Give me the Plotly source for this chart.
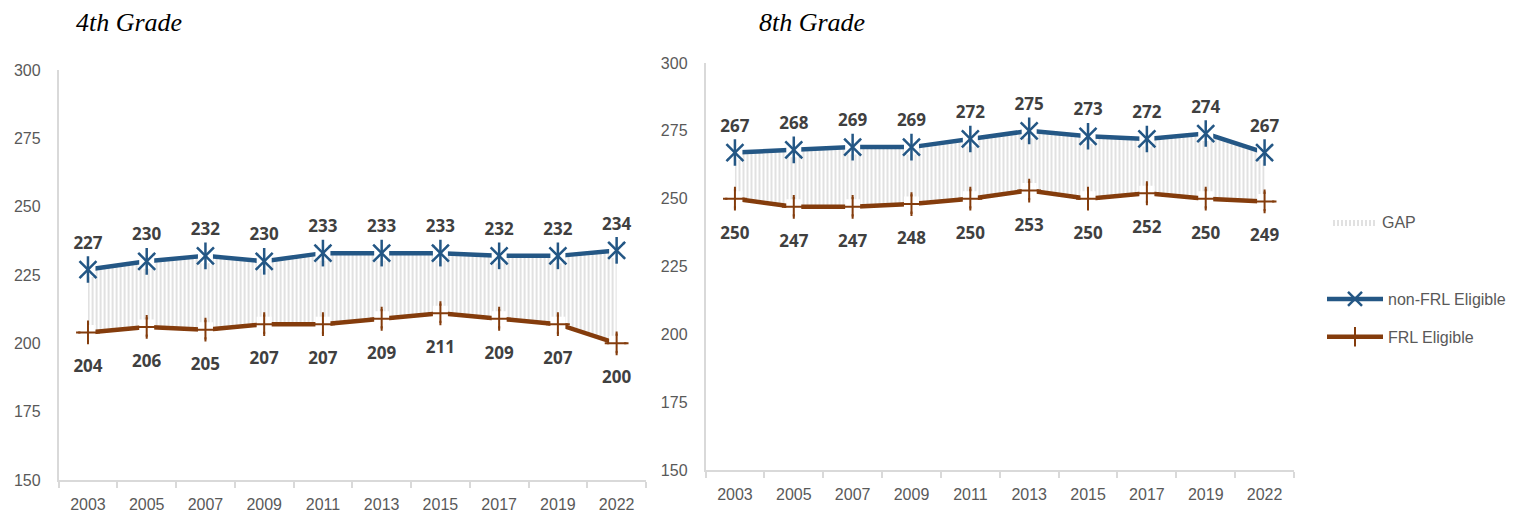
# %% NAEP gap chart: non-FRL vs FRL eligible, 4th and 8th grade

import plotly.graph_objects as go


# %% Data

years = ["2003", "2005", "2007", "2009", "2011", "2013", "2015", "2017", "2019", "2022"]

grade4_non_frl = [227, 230, 232, 230, 233, 233, 233, 232, 232, 234]
grade4_frl = [204, 206, 205, 207, 207, 209, 211, 209, 207, 200]

grade8_non_frl = [267, 268, 269, 269, 272, 275, 273, 272, 274, 267]
grade8_frl = [250, 247, 247, 248, 250, 253, 250, 252, 250, 249]

y_ticks = [150, 175, 200, 225, 250, 275, 300]


# %% Styles

blue = "#245785"
brown = "#843C0C"
axis_gray = "#D9D9D9"
tick_gray = "#595959"
label_gray = "#404040"
tick_font = {"family": "Liberation Sans, Arial, sans-serif", "size": 16, "color": tick_gray}
label_font = {"family": "Open Sans, sans-serif", "size": 17, "color": label_gray, "weight": "bold"}
title_font = {"family": "Liberation Serif, Times New Roman, serif", "size": 26, "color": "black",
              "style": "italic"}

W, H = 1525, 515


def px_x(x):
    return x / W


def px_y(y):
    return 1 - y / H


fig = go.Figure()


def add_panel(non_frl, frl, xa, ya, show_legend):
    # stacked gap area between the two series
    fig.add_trace(go.Scatter(
        x=years, y=frl, mode="lines", line={"width": 0},
        xaxis=xa, yaxis=ya, showlegend=False, hoverinfo="skip",
    ))
    fig.add_trace(go.Scatter(
        x=years, y=non_frl, mode="lines", line={"width": 0},
        fill="tonexty", fillcolor="rgba(0,0,0,0)",
        fillpattern={"shape": "|", "fgcolor": "#B8B8B8", "bgcolor": "white",
                     "size": 4, "solidity": 0.42},
        name="GAP", legend="legend2",
        xaxis=xa, yaxis=ya, showlegend=show_legend,
    ))

    # series lines
    fig.add_trace(go.Scatter(
        x=years, y=non_frl, mode="lines+markers",
        line={"color": blue, "width": 4.5},
        marker={"symbol": "x-thin-open", "size": 14, "color": blue, "line": {"width": 2.5}},
        name="non-FRL Eligible", legendgroup="nonfrl",
        xaxis=xa, yaxis=ya, showlegend=show_legend,
    ))
    fig.add_trace(go.Scatter(
        x=years, y=frl, mode="lines+markers",
        line={"color": brown, "width": 4.5},
        marker={"symbol": "cross-thin-open", "size": 14, "color": brown, "line": {"width": 2}},
        name="FRL Eligible", legendgroup="frl",
        xaxis=xa, yaxis=ya, showlegend=show_legend,
    ))

    # white backing so the line breaks around each marker
    for values in (non_frl, frl):
        fig.add_trace(go.Scatter(
            x=years, y=values, mode="markers",
            marker={"symbol": "square", "size": 15, "color": "white"},
            xaxis=xa, yaxis=ya, showlegend=False, hoverinfo="skip",
        ))

    # markers on top
    fig.add_trace(go.Scatter(
        x=years, y=non_frl, mode="markers",
        marker={"symbol": "x-thin-open", "size": 17, "color": blue, "line": {"width": 2.5}},
        xaxis=xa, yaxis=ya, showlegend=False,
    ))
    fig.add_trace(go.Scatter(
        x=years, y=non_frl, mode="markers",
        marker={"symbol": "line-ns-open", "size": 19, "color": blue, "line": {"width": 2.5}},
        xaxis=xa, yaxis=ya, showlegend=False, hoverinfo="skip",
    ))
    fig.add_trace(go.Scatter(
        x=years, y=frl, mode="markers",
        marker={"symbol": "cross-thin-open", "size": 17, "color": brown, "line": {"width": 2}},
        xaxis=xa, yaxis=ya, showlegend=False,
    ))

    # data labels, offset by invisible markers
    fig.add_trace(go.Scatter(
        x=years, y=non_frl, mode="markers+text",
        marker={"size": 25, "opacity": 0},
        text=[str(v) for v in non_frl], textposition="top center", textfont=label_font,
        xaxis=xa, yaxis=ya, showlegend=False, hoverinfo="skip",
    ))
    fig.add_trace(go.Scatter(
        x=years, y=frl, mode="markers+text",
        marker={"size": 42, "opacity": 0},
        text=[str(v) for v in frl], textposition="bottom center", textfont=label_font,
        xaxis=xa, yaxis=ya, showlegend=False, hoverinfo="skip",
    ))


add_panel(grade4_non_frl, grade4_frl, "x", "y", True)
add_panel(grade8_non_frl, grade8_frl, "x2", "y2", False)


x_common = dict(
    type="category", range=[-0.5, 9.5], showline=True, linecolor=axis_gray, linewidth=1.5,
    ticks="outside", tickson="boundaries", ticklen=6, tickcolor=axis_gray, tickwidth=1.5,
    showgrid=False, zeroline=False, tickfont=tick_font, automargin=False, ticklabelstandoff=9,
)
y_common = dict(
    range=[150, 300], tickvals=y_ticks, showline=True, linecolor=axis_gray, linewidth=1.5,
    ticks="", showgrid=False, zeroline=False, tickfont=tick_font, ticklabelstandoff=13,
    automargin=False,
)
legend_common = dict(
    xanchor="left", yanchor="middle", bgcolor="rgba(0,0,0,0)",
    font={"family": "Liberation Sans, Arial, sans-serif", "size": 16, "color": tick_gray},
)

# page body adds an 8px offset, so pixel positions below are figure pixels
fig.update_layout(
    width=W,
    height=H,
    margin={"l": 0, "r": 0, "t": 0, "b": 0},
    paper_bgcolor="white",
    plot_bgcolor="white",
    xaxis={**x_common, "domain": [px_x(50.6), px_x(638)], "anchor": "y"},
    yaxis={**y_common, "domain": [px_y(472), px_y(62)], "anchor": "x"},
    xaxis2={**x_common, "domain": [px_x(697.5), px_x(1286)], "anchor": "y2"},
    yaxis2={**y_common, "domain": [px_y(462), px_y(55)], "anchor": "x2"},
    legend={**legend_common, "x": px_x(1314), "y": px_y(310), "tracegroupgap": 14,
            "traceorder": "grouped", "itemwidth": 56},
    legend2={**legend_common, "x": px_x(1320), "y": px_y(214), "itemwidth": 44},
    annotations=[
        dict(text="4th Grade", x=px_x(120.5), y=px_y(14), xref="paper", yref="paper",
             xanchor="center", yanchor="middle", showarrow=False, font=title_font),
        dict(text="8th Grade", x=px_x(804), y=px_y(14), xref="paper", yref="paper",
             xanchor="center", yanchor="middle", showarrow=False, font=title_font),
    ],
)

fig.write_html("out.html")
